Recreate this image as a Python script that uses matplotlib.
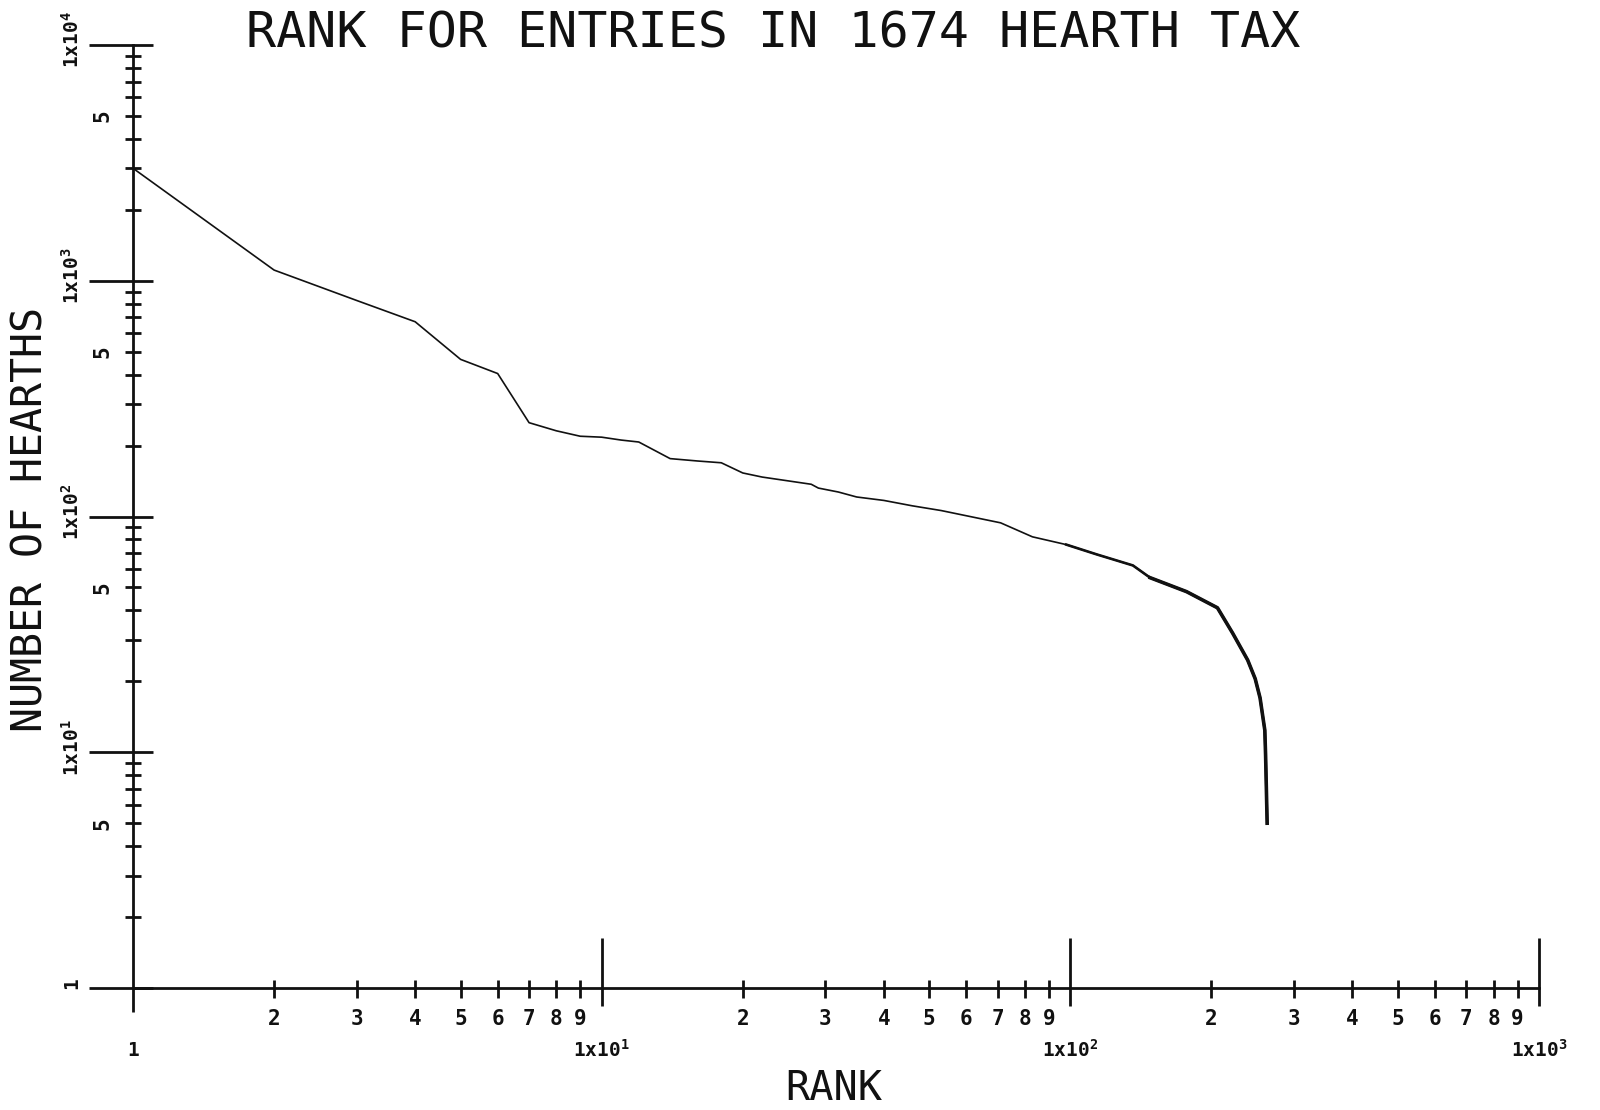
import numpy as np
import matplotlib.pyplot as plt

plt.rcParams['font.family'] = ['DejaVu Sans Mono', 'DejaVu Sans']
plt.rcParams['mathtext.default'] = 'regular'

# rank-size data
rank = [1, 2, 3, 4, 5, 6, 7, 8, 9, 10, 11, 12, 14, 16, 18, 20, 22, 28, 29, 32,
        35, 40, 46, 53, 71, 83, 98, 114, 136, 148, 177, 206, 222, 239, 248,
        254, 257, 260, 261, 263]
hearths = [3000, 1110, 825, 670, 464, 404, 250, 231, 219, 217, 211, 207, 176,
           172, 169, 153, 147, 137, 132, 127, 121, 117, 111, 106, 94, 82, 76,
           69, 62, 55, 48, 41, 32, 24.6, 20.5, 17, 14.5, 12.4, 9.7, 5]

x_decades = [1, 10, 100, 1000]
y_decades = [1, 10, 100, 1000, 10000]
x_major_labels = ['1', '1x10$^{1}$', '1x10$^{2}$', '1x10$^{3}$']
y_major_labels = ['1', '1x10$^{1}$', '1x10$^{2}$', '1x10$^{3}$', '1x10$^{4}$']
minor_digits = [2, 3, 4, 5, 6, 7, 8, 9]

W, H = 1600, 1110
AX_L, AX_B, AX_W, AX_H = 133, 122, 1406, 943  # pixels

fig = plt.figure(figsize=(W / 100, H / 100), dpi=100)
ax = fig.add_axes([AX_L / W, AX_B / H, AX_W / W, AX_H / H])
ax.set_xscale('log')
ax.set_yscale('log')
ax.set_xlim(1, 1000)
ax.set_ylim(1, 10000)
ax.xaxis.set_major_locator(plt.NullLocator())
ax.xaxis.set_minor_locator(plt.NullLocator())
ax.yaxis.set_major_locator(plt.NullLocator())
ax.yaxis.set_minor_locator(plt.NullLocator())
for s in ['top', 'right']:
    ax.spines[s].set_visible(False)
for s in ['left', 'bottom']:
    ax.spines[s].set_linewidth(2)
    ax.spines[s].set_color('#111111')

ink = '#111111'
xt = ax.get_xaxis_transform()
yt = ax.get_yaxis_transform()

# the curve: thin at the top, heavier where the points get dense
r = np.array(rank)
h = np.array(hearths)
ax.plot(r, h, color=ink, lw=1.2, clip_on=False)
ax.plot(r[r >= 98], h[r >= 98], color=ink, lw=1.9, clip_on=False)
ax.plot(r[r >= 148], h[r >= 148], color=ink, lw=2.6, clip_on=False)


def xtick(v, up, down):
    ax.plot([v, v], [-down / AX_H, up / AX_H], transform=xt, color=ink,
            lw=2, clip_on=False, solid_capstyle='butt')


def ytick(v, left, right):
    ax.plot([-left / AX_W, right / AX_W], [v, v], transform=yt, color=ink,
            lw=2, clip_on=False, solid_capstyle='butt')


# x axis ticks and labels
for v, lab in zip(x_decades, x_major_labels):
    if v == 1:
        xtick(v, 0, 24)
    else:
        xtick(v, 50, 18)
    ax.annotate(lab, xy=(v, 0), xycoords=xt, xytext=(0, -62),
                textcoords='offset pixels', ha='center', va='center',
                fontsize=14, fontweight='bold', color=ink)
for d in x_decades[:-1]:
    for k in minor_digits:
        xtick(k * d, 8, 10)
        ax.annotate(str(k), xy=(k * d, 0), xycoords=xt, xytext=(0, -31),
                    textcoords='offset pixels', ha='center', va='center',
                    fontsize=15, fontweight='bold', color=ink)

# y axis ticks and labels (labels turned on their side)
for v, lab in zip(y_decades, y_major_labels):
    ytick(v, 44, 20)
    ax.annotate(lab, xy=(0, v), xycoords=yt, xytext=(-61, 5),
                textcoords='offset pixels', ha='center', va='center',
                rotation=90, fontsize=14, fontweight='bold', color=ink)
for d in y_decades[:-1]:
    for k in minor_digits:
        ytick(k * d, 8, 8)
    ax.annotate('5', xy=(0, 5 * d), xycoords=yt, xytext=(-31, 0),
                textcoords='offset pixels', ha='center', va='center',
                rotation=90, fontsize=15, fontweight='bold', color=ink)

fig.text(773 / W, 1 - 33 / H, 'RANK FOR ENTRIES IN 1674 HEARTH TAX',
         ha='center', va='center', fontsize=36, color=ink)
fig.text(31 / W, 1 - 520 / H, 'NUMBER OF HEARTHS', rotation=90,
         ha='center', va='center', fontsize=30, color=ink)
fig.text(834 / W, 1 - 1089 / H, 'RANK', ha='center', va='center',
         fontsize=29, color=ink)

fig.savefig('out.png', dpi=100, facecolor='white')
